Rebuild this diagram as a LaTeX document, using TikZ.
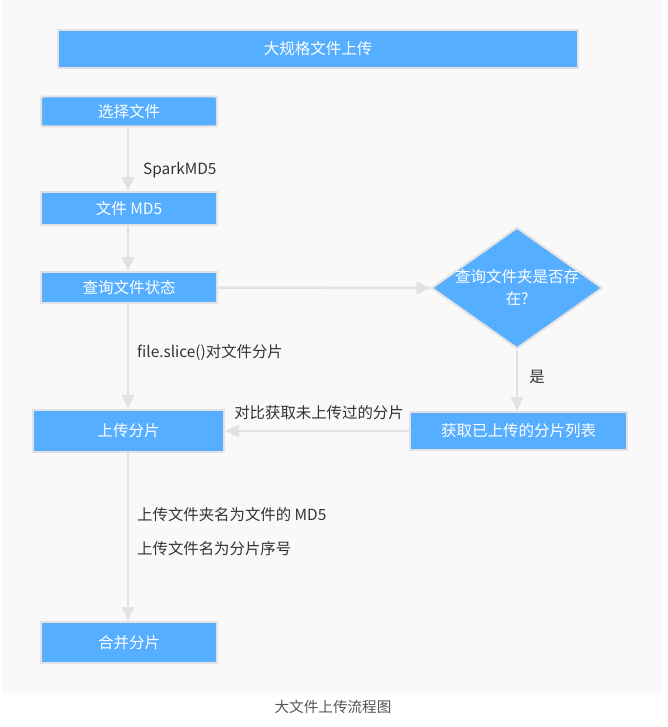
\documentclass[tikz,border=0pt]{standalone}
\usepackage{fontspec}
\setmainfont{Noto Sans CJK SC}
\usetikzlibrary{arrows.meta,shapes.geometric}

\definecolor{boxblue}{HTML}{55AEFF}
\definecolor{edgegray}{HTML}{E2E2E2}
\definecolor{panelgray}{HTML}{F9F9F9}
\definecolor{labelgray}{HTML}{333333}
\definecolor{captiongray}{HTML}{555555}

\tikzset{
  stepbox/.style={rectangle, draw=edgegray, line width=2pt, fill=boxblue,
    text=white, inner sep=0pt, font=\fontsize{15.5}{18}\selectfont},
  decision/.style={diamond, draw=edgegray, line width=2pt, fill=boxblue,
    inner sep=0pt, minimum width=171pt, minimum height=121pt},
  flow/.style={draw=edgegray, line width=2.5pt,
    -{Triangle[width=12pt,length=14pt,fill=edgegray]}},
  note/.style={text=labelgray, inner sep=0pt, font=\fontsize{15.4}{18}\selectfont},
}

\begin{document}
\begin{tikzpicture}[x=1pt,y=-1pt]
  % canvas and panel
  \useasboundingbox (0,0) rectangle (667,727);
  \fill[white] (0,0) rectangle (667,727);
  \fill[panelgray] (2,0) rectangle (662,693);

  % title bar
  \node[stepbox, minimum width=520pt, minimum height=38pt] (title) at (318,49) {大规格文件上传};

  % main column
  \node[stepbox, rounded corners=2pt, minimum width=176pt, minimum height=30pt] (pick) at (129,111.5) {选择文件};
  \node[stepbox, minimum width=176pt, minimum height=33pt] (md5) at (129,208.5) {文件 MD5};
  \node[stepbox, minimum width=176pt, minimum height=31pt] (query) at (129,287.5) {查询文件状态};
  \node[stepbox, minimum width=191pt, minimum height=42pt] (upload) at (128.5,431) {上传分片};
  \node[stepbox, minimum width=176pt, minimum height=41pt] (merge) at (129,642.5) {合并分片};

  % right column
  \node[decision] (dir) at (517,288) {};
  \node[text=white, align=center, inner sep=0pt,
        font=\fontsize{15.5}{22}\selectfont] (dirtext) at (dir.center) {查询文件夹是否存\\在?};
  \node[stepbox, minimum width=217pt, minimum height=38pt] (list) at (518.5,431) {获取已上传的分片列表};

  % connectors
  \draw[flow] (pick.south -| 128,0) -- (md5.north -| 128,0);
  \draw[flow] (md5.south -| 128,0) -- (query.north -| 128,0);
  \draw[flow] (query.east) -- (dir.west);
  \draw[flow] (query.south -| 128,0) -- (upload.north -| 128,0);
  \draw[flow] (dir.south) -- (list.north -| dir.south);
  \draw[flow] (list.west) -- (upload.east);
  \draw[flow] (upload.south -| 128,0) -- (merge.north -| 128,0);

  % connector labels
  \node[note, anchor=west] (lspark) at (143,170) {SparkMD5};
  \node[note, anchor=west] (lslice) at (137,352) {file.slice()对文件分片};
  \node[note] (lyes) at (537,377) {是};
  \node[note] (lcompare) at (319,413) {对比获取未上传过的分片};
  \node[note, anchor=west] (ldir) at (137,515) {上传文件夹名为文件的 MD5};
  \node[note, anchor=west] (lname) at (137,549) {上传文件名为分片序号};

  % caption
  \node[text=captiongray, inner sep=0pt, font=\fontsize{14.6}{17}\selectfont] (caption) at (333,707) {大文件上传流程图};
\end{tikzpicture}
\end{document}
